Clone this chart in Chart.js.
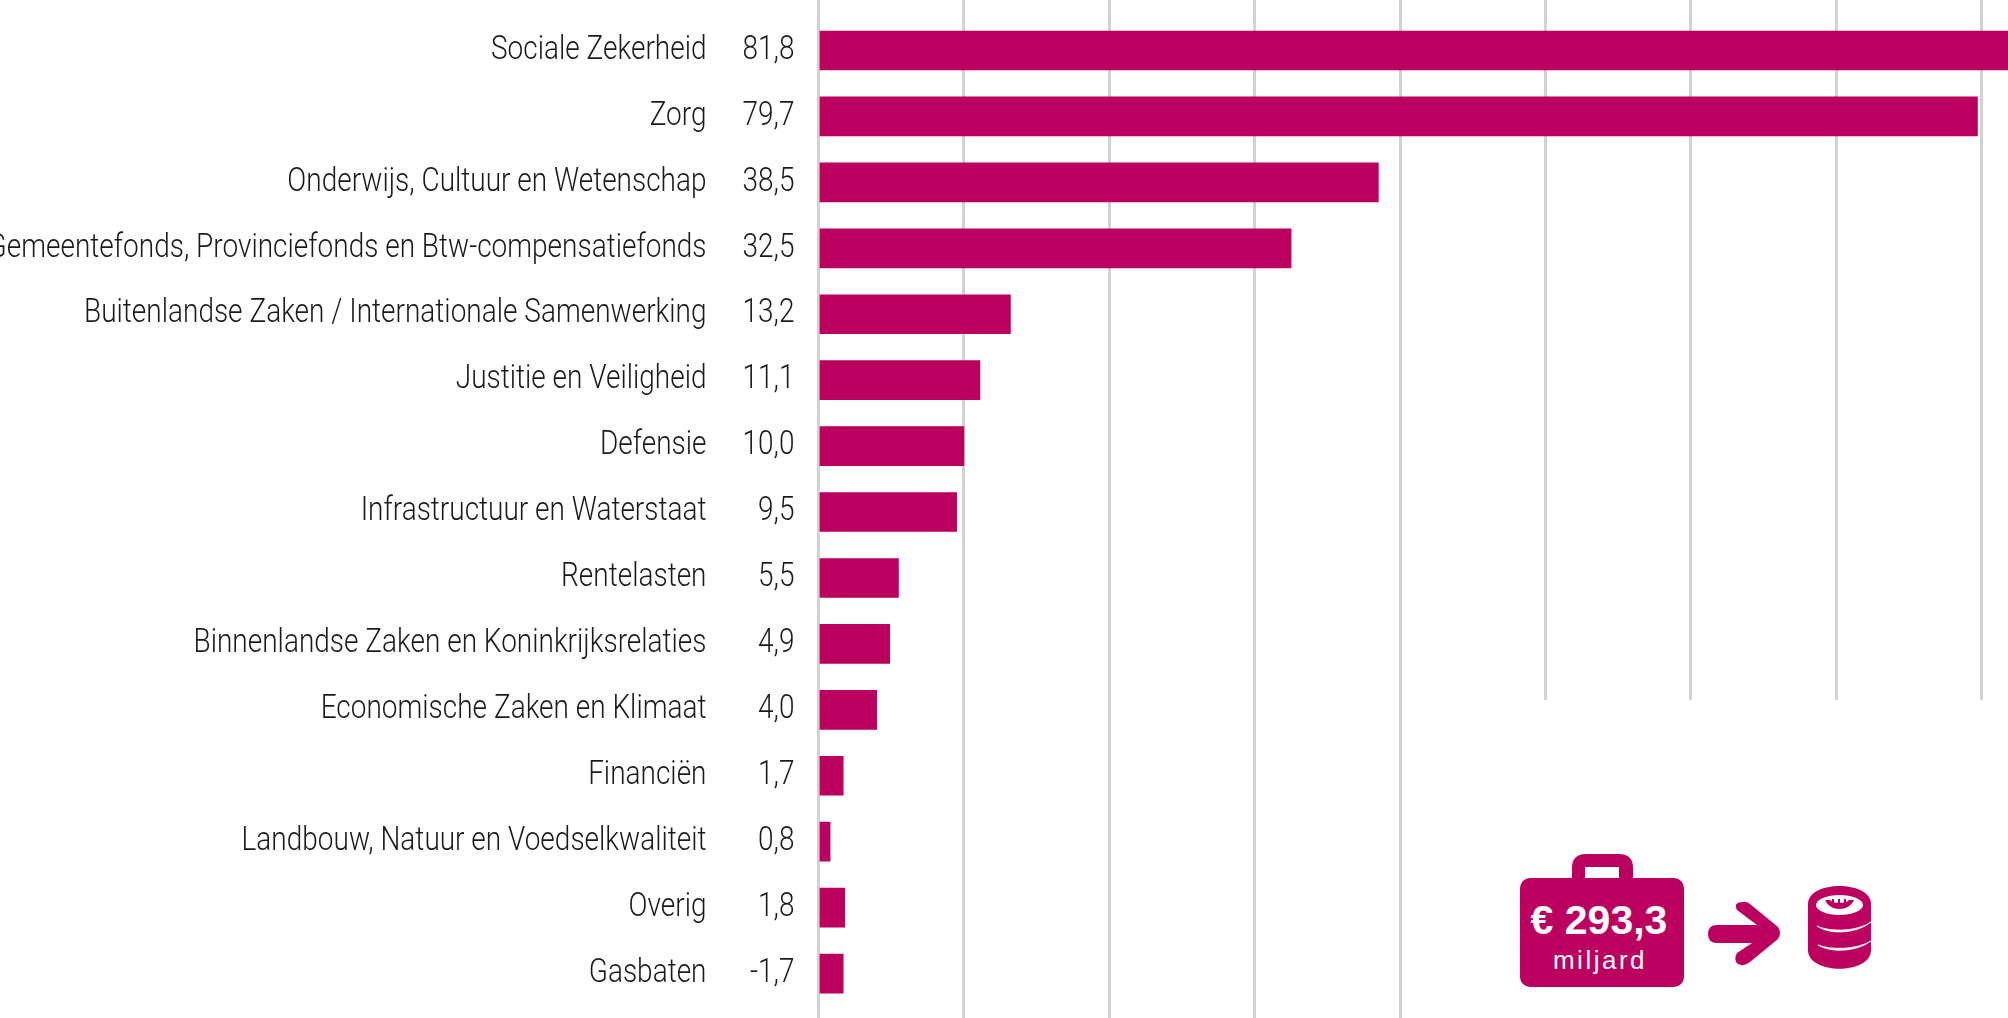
<!DOCTYPE html>
<html lang="nl">
<head>
<meta charset="utf-8">
<title>Uitgaven rijksbegroting</title>
<script src="https://cdn.jsdelivr.net/npm/chart.js@4/dist/chart.umd.min.js"></script>
<style>
    html, body { margin: 0; padding: 0; background: #fff; overflow: hidden; }
    #wrap { position: relative; width: 2008px; height: 1018px; }
    #resultsChart { display: block; }
    #icon { position: absolute; left: 1500px; top: 700px; }
</style>
</head>
<body>
<div id="wrap">
    <canvas id="resultsChart" width="2008" height="1018"></canvas>
    <svg id="icon" width="508" height="318" viewBox="1500 700 508 318">
        <rect x="1500" y="700" width="508" height="318" fill="#fff"/>
        <!-- koffer -->
        <path d="M1572 880 V868 Q1572 854 1586 854 H1619 Q1633 854 1633 868 V880 H1619 V867 H1585 V880 Z" fill="#bc0060"/>
        <rect x="1520" y="878" width="164" height="109" rx="10" fill="#bc0060"/>
        <text x="1599" y="934" text-anchor="middle" font-family="Liberation Sans" font-weight="bold" font-size="41" fill="#fff">€ 293,3</text>
        <text x="1600" y="969" text-anchor="middle" font-family="Liberation Sans" font-size="26" letter-spacing="2.5" fill="#fff">miljard</text>
        <!-- pijl -->
        <path d="M1717 925 H1757 L1737 910 Q1733 902 1743 902 Q1746 901 1750 904 L1778 927 Q1782 933 1778 939 L1750 962 Q1744 967 1738 964 Q1733 960 1737 953 L1752 943 H1717 Q1708 943 1708 934 Q1708 925 1717 925 Z" fill="#bc0060"/>
        <!-- munten -->
        <path d="M1808 904 C1808 880 1871 880 1871 904 V950 C1871 975 1808 975 1808 950 Z" fill="#bc0060"/>
        <ellipse cx="1839.5" cy="905" rx="23.5" ry="10" fill="#fff"/>
        <path d="M1825 900 C1830 912 1849 912 1854 900 L1849 900 C1846 904 1833 904 1830 900 Z" fill="#bc0060"/>
        <rect x="1832" y="899" width="2" height="4" fill="#bc0060"/>
        <rect x="1838" y="899" width="2" height="4" fill="#bc0060"/>
        <rect x="1844" y="899" width="2" height="4" fill="#bc0060"/>
        <path d="M1817 926 C1830 935 1856 934 1871 922 C1856 932 1830 932 1817 926 Z" fill="#fff" stroke="#fff" stroke-width="0.8"/>
        <path d="M1818 945 C1831 953 1856 952 1871 941 C1856 950 1831 950 1818 945 Z" fill="#fff" stroke="#fff" stroke-width="0.8"/>
    </svg>
</div>
<script>
// Categories and values
const categories = [
    'Sociale Zekerheid',
    'Zorg',
    'Onderwijs, Cultuur en Wetenschap',
    'Gemeentefonds, Provinciefonds en Btw-compensatiefonds',
    'Buitenlandse Zaken / Internationale Samenwerking',
    'Justitie en Veiligheid',
    'Defensie',
    'Infrastructuur en Waterstaat',
    'Rentelasten',
    'Binnenlandse Zaken en Koninkrijksrelaties',
    'Economische Zaken en Klimaat',
    'Financiën',
    'Landbouw, Natuur en Voedselkwaliteit',
    'Overig',
    'Gasbaten'
];
const valueLabels = ['81,8', '79,7', '38,5', '32,5', '13,2', '11,1', '10,0', '9,5', '5,5', '4,9', '4,0', '1,7', '0,8', '1,8', '-1,7'];
// Bar lengths: Gasbaten is drawn to the right in the original as well
const barLengths = [81.8, 79.7, 38.5, 32.5, 13.2, 11.1, 10.0, 9.5, 5.5, 4.9, 4.0, 1.7, 0.8, 1.8, 1.7];

const labelFont = { family: 'Roboto', size: 33, weight: '300' };
const textColor = '#1a1a1a';
const labelSquash = 0.848; // no condensed font installed, so the labels are narrowed

// y axis is numeric so the gridlines can run past the first and last row
function rowAxis(labels, width, padding, weight) {
    return {
        type: 'linear',
        position: 'left',
        reverse: true,
        offset: false,
        min: -0.766,
        max: 14.674,
        weight: weight,
        grid: { display: false, drawTicks: false, offset: false },
        border: { display: false },
        afterBuildTicks: (scale) => {
            scale.ticks = labels.map((label, i) => ({ value: i }));
        },
        afterFit: (scale) => {
            scale.width = width;
            scale.paddingTop = 0;
            scale.paddingBottom = 0;
            narrowLabels(scale, padding);
        },
        ticks: {
            autoSkip: false,
            padding: padding,
            color: textColor,
            font: labelFont,
            callback: (value) => labels[value]
        }
    };
}

// Squeeze the tick labels horizontally around their right edge
function narrowLabels(scale, padding) {
    if (scale.narrowed) return;
    scale.narrowed = true;
    const drawLabels = scale.drawLabels;
    scale._computeLabelArea = () => undefined; // the default clip would cut the long labels
    scale.drawLabels = function (area) {
        const c = scale.ctx;
        const edge = scale.right - padding;
        c.save();
        c.translate(edge, 0);
        c.scale(labelSquash, 1);
        c.translate(-edge, 0);
        drawLabels.call(scale, area);
        c.restore();
    };
}

const ctx = document.getElementById('resultsChart').getContext('2d');
new Chart(ctx, {
    type: 'bar',
    data: {
        datasets: [{
            data: barLengths.map((v, i) => ({ x: v, y: i })),
            backgroundColor: '#bc0060',
            barThickness: 39,
            base: 0.1,
            yAxisID: 'yValues'
        }]
    },
    options: {
        indexAxis: 'y',
        responsive: false,
        animation: false,
        layout: { padding: 0 },
        plugins: { legend: { display: false }, tooltip: { enabled: false } },
        scales: {
            x: {
                type: 'linear',
                position: 'top',
                min: 0,
                max: 81.8,
                border: { display: false },
                grid: { color: '#d2d2d2', lineWidth: 3, drawTicks: false },
                ticks: { display: false, stepSize: 10, includeBounds: false },
                afterFit: (scale) => {
                    scale.height = 0;
                }
            },
            yValues: rowAxis(valueLabels, 112, 24, 1),
            yNames: rowAxis(categories, 706.5, 0, 2)
        }
    }
});
</script>
</body>
</html>
